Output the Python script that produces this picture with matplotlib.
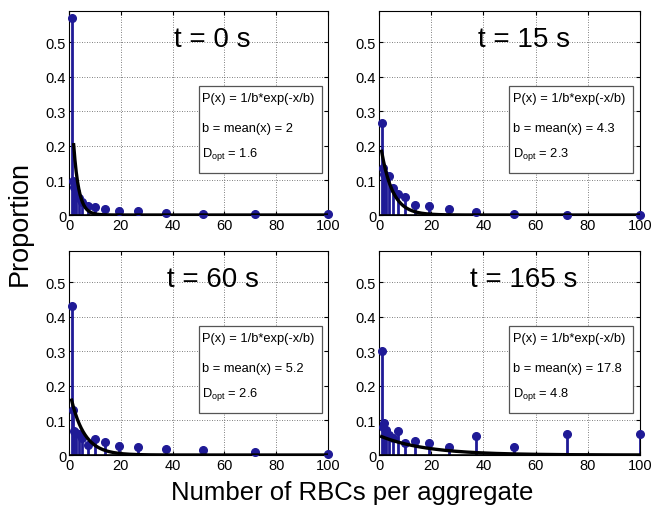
import numpy as np
import matplotlib
matplotlib.use("Agg")
import matplotlib.pyplot as plt
from matplotlib.patches import Rectangle

plt.rcParams['font.family'] = ['Liberation Sans', 'DejaVu Sans']

# Bin centres (aggregate size) shared by all panels
sizes = [1, 1.39, 1.93, 2.68, 3.73, 5.18, 7.2, 10, 13.9, 19.3, 26.8, 37.3, 51.8, 72, 100]

# Measured proportions per time point
prop_t0 = [0.57, 0.098, 0.08, 0.067, 0.05, 0.037, 0.027, 0.022, 0.016, 0.012, 0.011, 0.007, 0.003, 0.003, 0.003]
prop_t15 = [0.265, 0.135, 0.12, 0.11, 0.113, 0.078, 0.062, 0.052, 0.03, 0.025, 0.018, 0.01, 0.003, 0.001, 0.001]
prop_t60 = [0.43, 0.13, 0.07, 0.065, 0.06, 0.05, 0.028, 0.047, 0.037, 0.025, 0.022, 0.017, 0.015, 0.009, 0.002]
prop_t165 = [0.30, 0.082, 0.093, 0.072, 0.057, 0.05, 0.069, 0.035, 0.04, 0.034, 0.023, 0.055, 0.023, 0.062, 0.062]

titles = ["t = 0 s", "t = 15 s", "t = 60 s", "t = 165 s"]
b_vals = [2, 4.3, 5.2, 17.8]
b_labels = ["2", "4.3", "5.2", "17.8"]
d_opt = ["1.6", "2.3", "2.6", "4.8"]
fit_start = [1.8, 1, 1, 1]   # where the fitted curve becomes visible
xticks = [0, 20, 40, 60, 80, 100]
yticks = [0, 0.1, 0.2, 0.3, 0.4, 0.5]

BLUE = "#1f1a96"
W, H = 651, 510

fig = plt.figure(figsize=(W / 100, H / 100), dpi=100)

# axes boxes in pixels: left, right, top, bottom
boxes = [(69, 328, 12, 216), (379, 640, 12, 216),
         (69, 328, 252, 456), (379, 640, 252, 456)]
data = [prop_t0, prop_t15, prop_t60, prop_t165]

for i, (l, r, t, bt) in enumerate(boxes):
    ax = fig.add_axes([l / W, 1 - bt / H, (r - l) / W, (bt - t) / H])
    ax.set_xlim(0, 100)
    ax.set_ylim(0, 0.59)
    ax.set_xticks(xticks)
    ax.set_yticks(yticks)
    ax.set_xticklabels([str(v) for v in xticks])
    ax.set_yticklabels(["0", "0.1", "0.2", "0.3", "0.4", "0.5"])
    ax.tick_params(direction="in", length=3, labelsize=10.5, top=True, right=True, pad=2)
    ax.grid(True, linestyle=(0, (1, 2)), color="#555555", linewidth=0.6)
    for s in ax.spines.values():
        s.set_linewidth(0.8)

    # measured distribution as stems
    ax.vlines(sizes, 0, data[i], color=BLUE, linewidth=2.0, zorder=3)
    ax.plot(sizes, data[i], "o", color=BLUE, markersize=5.5, zorder=4, clip_on=False)

    # exponential fit P(x) = 1/b*exp(-x/b)
    xf = np.linspace(fit_start[i], 100, 400)
    b = b_vals[i]
    ax.plot(xf, 1 / b * np.exp(-xf / b), color="black", linewidth=2.4, zorder=5)
    ax.axhline(0, color="black", linewidth=1.2, zorder=5)

    ax.text(0.555, 0.865, titles[i], transform=ax.transAxes, ha="center", va="center",
            fontsize=20, zorder=6)

    ax.add_patch(Rectangle((0.50, 0.205), 0.475, 0.425, transform=ax.transAxes,
                           facecolor="white", edgecolor="#555555", linewidth=0.9, zorder=6))
    ax.text(0.515, 0.572, "P(x) = 1/b*exp(-x/b)", transform=ax.transAxes,
            fontsize=9.3, va="center", zorder=7)
    ax.text(0.515, 0.425, "b = mean(x) = " + b_labels[i], transform=ax.transAxes,
            fontsize=9.3, va="center", zorder=7)
    ax.text(0.515, 0.30, "D$_{\\mathregular{opt}}$ = " + d_opt[i], transform=ax.transAxes,
            fontsize=9.3, va="center", zorder=7)

fig.text(20 / W, 1 - 224 / H, "Proportion", rotation=90, ha="center", va="center", fontsize=19.5)
fig.text(352 / W, 1 - 493 / H, "Number of RBCs per aggregate", ha="center", va="center", fontsize=18.5)

fig.savefig("out.png", dpi=100)
